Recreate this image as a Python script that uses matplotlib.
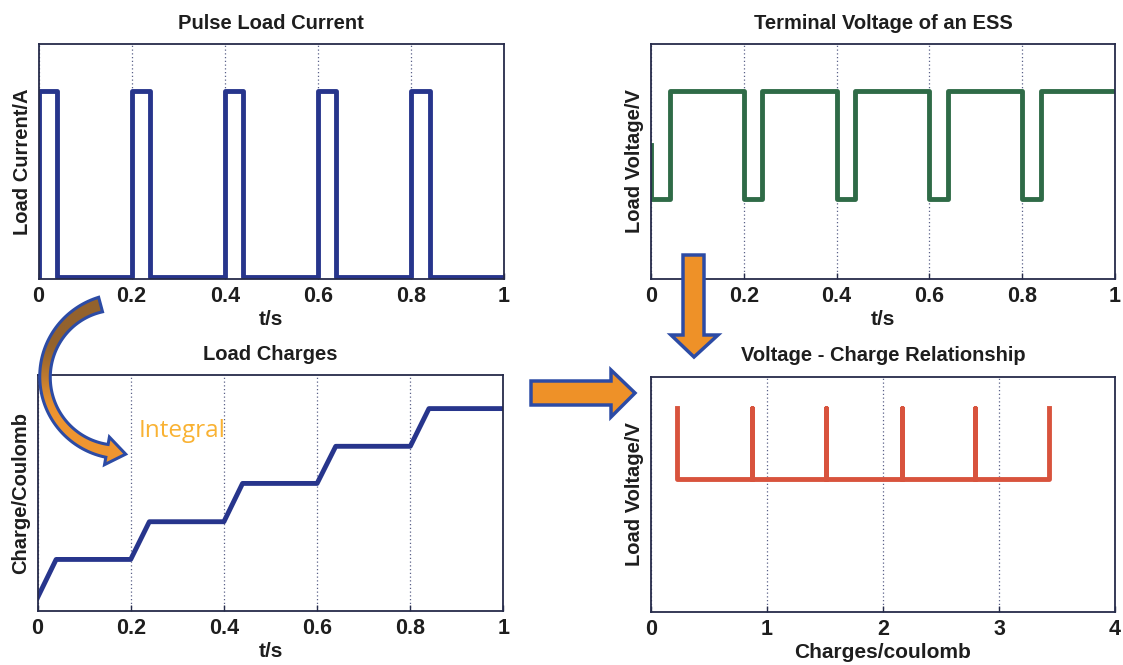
import numpy as np
import matplotlib
matplotlib.use("Agg")
import matplotlib.pyplot as plt
from matplotlib.patches import Polygon
from matplotlib.colors import to_rgb

# ---------------- data ----------------
pulse_start = [0.0, 0.2, 0.4, 0.6, 0.8]     # s
pulse_end = [0.04, 0.24, 0.44, 0.64, 0.84]  # s
t_final = 1.0

current_high = 1.0
current_low = 0.01

volt_init = 10.85
volt_rest = 12.0
volt_load = 9.7

charge_levels = [0.22, 0.87, 1.51, 2.16, 2.79, 3.43]  # coulomb

time_ticks = [0, 0.2, 0.4, 0.6, 0.8, 1]
time_ticklabels = ["0", "0.2", "0.4", "0.6", "0.8", "1"]
charge_ticks = [0, 1, 2, 3, 4]
charge_ticklabels = ["0", "1", "2", "3", "4"]

# ---------------- build step series ----------------
t_cur, i_cur = [0.0], [current_low]
for s, e in zip(pulse_start, pulse_end):
    t_cur += [s, s, e, e]
    i_cur += [current_low, current_high, current_high, current_low]
t_cur.append(t_final); i_cur.append(current_low)

t_v, v_v = [0.0], [volt_init]
for s, e in zip(pulse_start, pulse_end):
    if s > 0:
        t_v.append(s); v_v.append(volt_rest)
    t_v += [s, e, e]
    v_v += [volt_load, volt_load, volt_rest]
t_v.append(t_final); v_v.append(volt_rest)

t_q, q_q = [0.0], [charge_levels[0]]
for k, (s, e) in enumerate(zip(pulse_start, pulse_end)):
    if s > 0:
        t_q.append(s); q_q.append(charge_levels[k])
    t_q.append(e); q_q.append(charge_levels[k + 1])
t_q.append(t_final); q_q.append(charge_levels[-1])

q_vq, v_vq = [charge_levels[0]], [volt_rest]
for k in range(len(charge_levels) - 1):
    q_vq += [charge_levels[k], charge_levels[k + 1], charge_levels[k + 1]]
    v_vq += [volt_load, volt_load, volt_rest]

# ---------------- figure ----------------
W, H = 1123, 665
fig = plt.figure(figsize=(W / 100, H / 100), dpi=100)
plt.rcParams['font.family'] = ['Liberation Sans', 'DejaVu Sans']

frame_col = '#262b4a'
blue = '#27358C'
green = '#2F6B47'
red = '#D8533D'
text_col = '#1e1e1e'


def px_axes(l, t, r, b):
    return fig.add_axes([l / W, 1 - b / H, (r - l) / W, (b - t) / H])


def style(ax, title, xlabel, ylabel, xticks, xticklabels, xlim, ylim):
    ax.set_xlim(*xlim)
    ax.set_ylim(*ylim)
    ax.set_xticks(xticks)
    ax.set_xticklabels(xticklabels, fontsize=15.5, fontweight='bold', color=text_col)
    ax.set_yticks([])
    ax.tick_params(axis='x', direction='in', length=4, width=1, color=frame_col, pad=5)
    for sp in ax.spines.values():
        sp.set_color(frame_col)
        sp.set_linewidth(1.3)
    ax.grid(axis='x', linestyle=(0, (1, 2)), color='#5a6088', linewidth=0.9)
    ax.set_axisbelow(True)
    ax.set_title(title, fontsize=14.5, fontweight='bold', color=text_col, pad=11)
    ax.set_xlabel(xlabel, fontsize=15, fontweight='bold', color=text_col, labelpad=2.5)
    ax.set_ylabel(ylabel, fontsize=14.5, fontweight='bold', color=text_col, labelpad=5)


ax1 = px_axes(38.5, 44, 504, 279)
ax1.plot(t_cur, i_cur, color=blue, lw=3.5, solid_joinstyle='round')
style(ax1, 'Pulse Load Current', 't/s', 'Load Current/A', time_ticks, time_ticklabels,
      (0, 1), (0, 1.25))

ax2 = px_axes(651, 44, 1115, 279)
ax2.plot(t_v, v_v, color=green, lw=3.5, solid_joinstyle='round')
style(ax2, 'Terminal Voltage of an ESS', 't/s', 'Load Voltage/V', time_ticks, time_ticklabels,
      (0, 1), (8, 13))

ax3 = px_axes(37.5, 375, 503.5, 610.7)
ax3.plot(t_q, q_q, color=blue, lw=3.5, solid_joinstyle='round')
style(ax3, 'Load Charges', 't/s', 'Charge/Coulomb', time_ticks, time_ticklabels,
      (0, 1), (0, 4))

ax4 = px_axes(651, 376.7, 1115, 611.7)
ax4.plot(q_vq, v_vq, color=red, lw=3.5, solid_joinstyle='round')
style(ax4, 'Voltage - Charge Relationship', 'Charges/coulomb', 'Load Voltage/V',
      charge_ticks, charge_ticklabels, (0, 4), (5.4, 13))

# ---------------- overlay annotations (pixel coordinates) ----------------
ov = fig.add_axes([0, 0, 1, 1], zorder=10)
ov.set_xlim(0, W)
ov.set_ylim(H, 0)
ov.axis('off')
ov.patch.set_alpha(0)

arrow_fill = '#EE9128'
arrow_edge = '#2C4BA5'

down = Polygon([(683, 255), (704, 255), (704, 335), (718, 335), (694, 357),
                (671, 335), (683, 335)], closed=True, facecolor=arrow_fill,
               edgecolor=arrow_edge, lw=2.5, joinstyle='miter')
ov.add_patch(down)
right = Polygon([(531, 381), (611, 381), (611, 370), (635, 393), (611, 417),
                 (611, 405), (531, 405)], closed=True, facecolor=arrow_fill,
                edgecolor=arrow_edge, lw=2.5, joinstyle='miter')
ov.add_patch(right)

# curved arrow
cx, cy, r = 120.0, 377.0, 75.0
th = np.radians(np.linspace(255, 100, 80))
u = np.linspace(0, 1, th.size)
hw = 7.5 * (1 - u) ** 2 + 3.5 * 2 * u * (1 - u) + 6.5 * u ** 2
outer = np.c_[cx + (r + hw) * np.cos(th), cy + (r + hw) * np.sin(th)]
inner = np.c_[cx + (r - hw) * np.cos(th), cy + (r - hw) * np.sin(th)]
the = th[-1]
base = np.array([cx + r * np.cos(the), cy + r * np.sin(the)])
tang = np.array([np.sin(the), -np.cos(the)])
nrm = np.array([np.cos(the), np.sin(the)])
tip = base + 19 * tang
head = [base + 14 * nrm, tip, base - 14 * nrm]
pts = np.vstack([outer, head, inner[::-1]])
carrow = Polygon(pts, closed=True, facecolor='none', edgecolor=arrow_edge, lw=2.2,
                 joinstyle='miter')
ov.add_patch(carrow)
c_top = np.array(to_rgb('#93622D'))
c_bot = np.array(to_rgb('#EE9530'))
yy = np.linspace(0, 1, 200)
s = np.clip((yy - 0.25) / 0.45, 0, 1)
s = s * s * (3 - 2 * s)
grad = (c_top[None, :] * (1 - s[:, None]) + c_bot[None, :] * s[:, None])[:, None, :]
grad = np.repeat(grad, 2, axis=1)
im = ov.imshow(grad, extent=(30, 145, 470, 295), origin='upper', aspect='auto',
               interpolation='bilinear', zorder=1)
fillp = Polygon(pts, closed=True, facecolor='none', edgecolor='none', transform=ov.transData)
ov.add_patch(fillp)
im.set_clip_path(fillp)
carrow.set_zorder(2)
ov.set_xlim(0, W)
ov.set_ylim(H, 0)

ov.text(139, 437, 'Integral', fontsize=17.5, color='#F9B233',
        family=['Open Sans', 'DejaVu Sans'], ha='left', va='baseline', zorder=3)

fig.savefig('out.png', dpi=100)
